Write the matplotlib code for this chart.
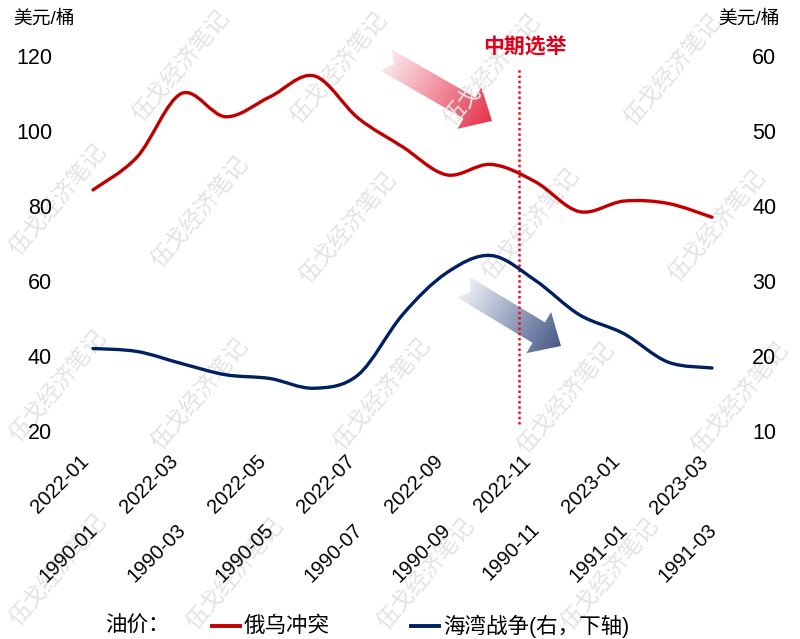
import numpy as np
import matplotlib
matplotlib.use("Agg")
import matplotlib.pyplot as plt
from matplotlib.path import Path
from matplotlib.patches import PathPatch, Polygon
from matplotlib.lines import Line2D
import matplotlib.transforms as mtransforms

plt.rcParams['font.family'] = ['Liberation Sans', 'Noto Sans CJK SC']

# data (monthly averages, USD/barrel)
months_2022 = ['2022-01', '2022-02', '2022-03', '2022-04', '2022-05', '2022-06', '2022-07',
               '2022-08', '2022-09', '2022-10', '2022-11', '2022-12', '2023-01', '2023-02', '2023-03']
months_1990 = ['1990-01', '1990-02', '1990-03', '1990-04', '1990-05', '1990-06', '1990-07',
               '1990-08', '1990-09', '1990-10', '1990-11', '1990-12', '1991-01', '1991-02', '1991-03']
oil_russia = [84.3, 93.1, 110.0, 103.8, 109.1, 114.7, 103.4, 95.8, 88.3, 91.1, 86.5, 78.5, 81.3, 80.7, 77.0]
oil_gulf = [21.0, 20.6, 19.0, 17.5, 17.0, 15.7, 17.5, 25.5, 31.1, 33.4, 30.1, 25.5, 23.0, 19.2, 18.4]
election_pos = 9.64   # midterm election, in months after 2022-01

RED = '#c00000'
NAVY = '#002060'
W, H = 800, 639


def px(x, y):
    return x / W, 1 - y / H


def smooth_path(xs, ys):
    # smoothed line through the points (cubic bezier, like excel's smoothed line)
    pts = np.column_stack([xs, ys]).astype(float)
    n = len(pts)
    verts = [pts[0]]
    codes = [Path.MOVETO]
    for i in range(n - 1):
        p0 = pts[max(i - 1, 0)]
        p1 = pts[i]
        p2 = pts[i + 1]
        p3 = pts[min(i + 2, n - 1)]
        verts += [p1 + (p2 - p0) / 6, p2 - (p3 - p1) / 6, p2]
        codes += [Path.CURVE4] * 3
    return Path(verts, codes)


def gradient_arrow(axo, tail, tip, c0, c1, w=12, hw=24, hl=26, nd=9):
    T = np.array(tail, float)
    P = np.array(tip, float)
    d = P - T
    L = np.hypot(*d)
    u = d / L
    nrm = np.array([-u[1], u[0]])
    st = [(0, -w), (L - hl, -w), (L - hl, -hw), (L, 0), (L - hl, hw), (L - hl, w), (0, w), (nd, 0)]
    pts = np.array([T + s * u + t * nrm for s, t in st])
    poly = Polygon(pts, closed=True, fc='none', ec='none')
    axo.add_patch(poly)
    x0, y0 = pts.min(0) - 2
    x1, y1 = pts.max(0) + 2
    gx, gy = np.meshgrid(np.linspace(x0, x1, 200), np.linspace(y0, y1, 200))
    s = np.clip(((gx - T[0]) * u[0] + (gy - T[1]) * u[1]) / L, 0, 1)
    img = (1 - s)[..., None] * np.array(c0) / 255 + s[..., None] * np.array(c1) / 255
    im = axo.imshow(img, extent=(x0, x1, y1, y0), origin='upper', aspect='auto',
                    interpolation='bilinear')
    im.set_clip_path(poly)


fig = plt.figure(figsize=(8, 6.39), dpi=100)

# overlay in pixel coords for watermark + arrows (behind the lines)
axo = fig.add_axes([0, 0, 1, 1])
axo.set_zorder(-1)
axo.axis('off')
axo.patch.set_visible(False)

wm_pos = [(181, 66), (339, 68), (492, 70), (673, 70),
          (58, 200), (200, 212), (348, 228), (531, 224), (717, 226),
          (58, 386), (200, 394), (382, 394), (566, 398), (740, 398),
          (58, 570), (235, 574), (426, 574), (610, 574)]
for wx, wy in wm_pos:
    axo.text(wx, wy, '伍戈经济笔记', rotation=50, fontsize=16.5, color='#e3e3e3',
             ha='center', va='center', family='Noto Sans CJK SC')

gradient_arrow(axo, (386, 60), (492, 121), (252, 234, 238), (228, 50, 75))
gradient_arrow(axo, (463, 287), (561, 346), (238, 241, 247), (70, 88, 135))
axo.set_xlim(0, W)
axo.set_ylim(H, 0)

# main axes
ax = fig.add_axes([93 / W, 1 - 431 / H, 619 / W, 375 / H])
ax.patch.set_visible(False)
ax.set_xlim(0, len(months_2022) - 1)
ax.set_ylim(20, 120)
axr = ax.twinx()
axr.set_ylim(10, 60)
for a in (ax, axr):
    for sp in a.spines.values():
        sp.set_visible(False)

x = np.arange(len(months_2022))
ax.add_patch(PathPatch(smooth_path(x, oil_russia), fill=False, edgecolor=RED, lw=2.4,
                       capstyle='round', clip_on=False))
axr.add_patch(PathPatch(smooth_path(x, oil_gulf), fill=False, edgecolor=NAVY, lw=2.4,
                        capstyle='round', clip_on=False))

ax.axvline(election_pos, ymin=0.019, ymax=0.971, color='#e11423', lw=1.8,
           linestyle=(0, (1, 1.1)))
fig.text(*px(525, 46), '中期选举', color='#e0001b', fontsize=15, fontweight='bold',
         ha='center', va='center', family='Noto Sans CJK SC')

ax.set_yticks(range(20, 121, 20))
ax.tick_params(axis='y', length=0, pad=29.5, labelsize=15.5)
axr.set_yticks(range(10, 61, 10))
axr.tick_params(axis='y', length=0, pad=29, labelsize=15.5)

ax.set_xticks(x[::2])
ax.set_xticklabels(months_2022[::2], rotation=45, ha='right')
ax.tick_params(axis='x', length=0, pad=15, labelsize=14.5)

sec = ax.secondary_xaxis('bottom')
sec.set_xticks(x[::2])
sec.set_xticklabels(months_1990[::2], rotation=45, ha='right')
sec.tick_params(axis='x', length=0, pad=64, labelsize=14.5)
for sp in sec.spines.values():
    sp.set_visible(False)
shift = mtransforms.ScaledTranslation(8 / 100, 0, fig.dpi_scale_trans)
for lab in sec.get_xticklabels():
    lab.set_transform(lab.get_transform() + shift)

# units
fig.text(*px(13, 19), '美元/桶', fontsize=13.5, ha='left', va='center')
fig.text(*px(780, 19), '美元/桶', fontsize=13.5, ha='right', va='center')

# legend
ly = 1 - 626 / H
fig.text(105 / W, ly, '油价：', fontsize=15.5, ha='left', va='center')
fig.add_artist(Line2D([212 / W, 240 / W], [ly, ly], color=RED, lw=2.8, transform=fig.transFigure))
fig.text(244 / W, ly, '俄乌冲突', fontsize=15.5, ha='left', va='center')
fig.add_artist(Line2D([411 / W, 439 / W], [ly, ly], color=NAVY, lw=2.8, transform=fig.transFigure))
fig.text(443 / W, ly, '海湾战争(右，下轴)', fontsize=15.5, ha='left', va='center')

fig.savefig('out.png', dpi=100)
